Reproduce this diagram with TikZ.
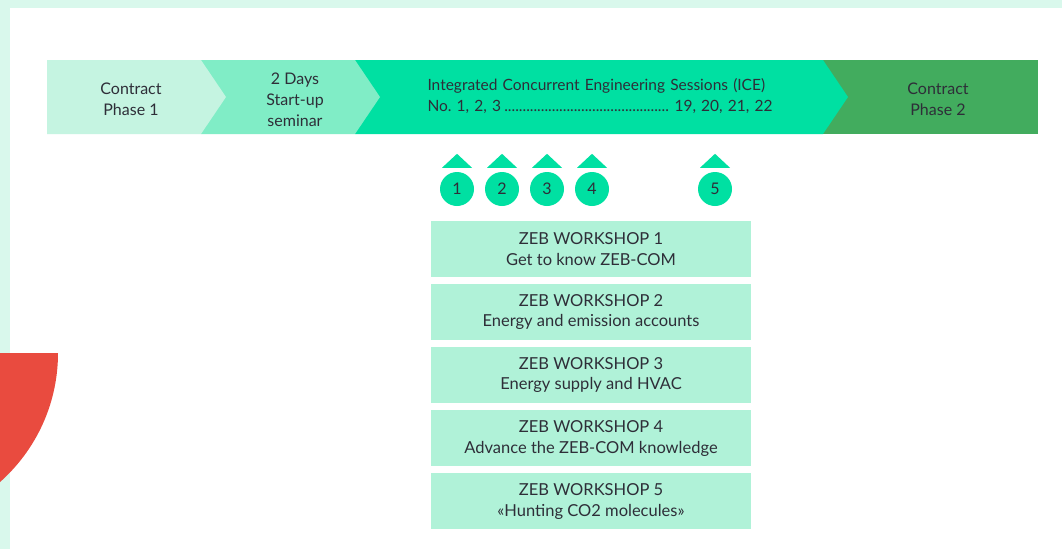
\documentclass[tikz,border=0pt]{standalone}
\usepackage{fontspec}
\setmainfont{Lato}
\usetikzlibrary{positioning}
\definecolor{mintbg}{HTML}{D9F8EC}
\definecolor{phaseone}{HTML}{C5F4E1}
\definecolor{startup}{HTML}{80EDC6}
\definecolor{icegreen}{HTML}{00E0A2}
\definecolor{phasetwo}{HTML}{42AC5E}
\definecolor{boxmint}{HTML}{B0F2D8}
\definecolor{inkgray}{HTML}{2E2E38}
\definecolor{redcap}{HTML}{E94B3F}
\frenchspacing

\begin{document}
\begin{tikzpicture}[x=1pt, y=-1pt, node distance={6.7pt},
    font=\fontsize{16}{21}\selectfont,
    label/.style = {text=inkgray, align=center},
    marker/.style = {circle, fill=icegreen, minimum size=34pt, inner sep=0pt, text=inkgray},
    workshop/.style = {fill=boxmint, minimum width=320pt, minimum height=56pt, inner sep=0pt,
        align=center, text=inkgray, font=\fontsize{16.5}{20.5}\selectfont}]
    \useasboundingbox (0,0) rectangle (1062,549);
    % background and frame
    \fill[mintbg] (0,0) rectangle (1062,549);
    \fill[white] (10,8) rectangle (1062,549);
    \begin{scope}
        \clip (0,353) rectangle (120,549);
        \fill[redcap] (-114.5,353) circle[radius=172.5pt];
    \end{scope}
    % process bar
    \fill[phasetwo] (823,60) rectangle (1038,134);
    \fill[icegreen] (355,60) -- (823,60) -- (848,97) -- (823,134) -- (355,134) -- cycle;
    \fill[startup] (201,60) -- (355,60) -- (380,97) -- (355,134) -- (201,134) -- cycle;
    \fill[phaseone] (47,60) -- (201,60) -- (226,97) -- (201,134) -- (47,134) -- cycle;
    \node[label] (p1) at (131,99) {Contract\\Phase 1};
    \node[label] (seminar) at (295,100) {2 Days\\Start-up\\seminar};
    \node[label, align=left, text width=345pt, inner sep=0pt,
        font=\fontsize{15.5}{21}\selectfont] (ice) at (600,96)
        {\mbox{Integrated Concurrent Engineering Sessions (ICE)}\\
         No. 1, 2, 3\leaders\hbox{.}\hfill\,19, 20, 21, 22};
    \node[label] (p2) at (938,99) {Contract\\Phase 2};
    % session markers
    \node[marker] (m1) at (457,189) {1};
    \node[marker] (m2) at (502,189) {2};
    \node[marker] (m3) at (547,189) {3};
    \node[marker] (m4) at (592,189) {4};
    \node[marker] (m5) at (715,189) {5};
    \foreach \n in {1,...,5}
        \fill[icegreen] ([yshift=4pt]m\n.north) ++(-15,0) -- ++(30,0) -- ++(-15,-14) -- cycle;
    % workshops
    \node[workshop] (w1) at (591,249) {ZEB WORKSHOP 1\\Get to know ZEB-COM};
    \node[workshop] (w2) [below=of w1] {ZEB WORKSHOP 2\\Energy and emission accounts};
    \node[workshop] (w3) [below=of w2] {ZEB WORKSHOP 3\\Energy supply and HVAC};
    \node[workshop] (w4) [below=of w3] {ZEB WORKSHOP 4\\Advance the ZEB-COM knowledge};
    \node[workshop] (w5) [below=of w4] {ZEB WORKSHOP 5\\«Hunting CO2 molecules»};
\end{tikzpicture}
\end{document}
